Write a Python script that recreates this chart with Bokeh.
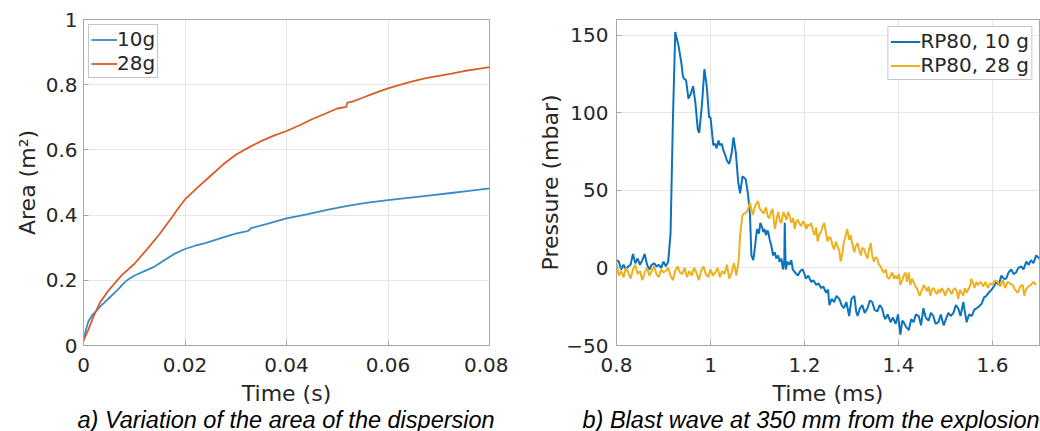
from bokeh.plotting import figure
from bokeh.layouts import row, column
from bokeh.models import FixedTicker, Legend, LegendItem, Range1d
from bokeh.core.properties import value
from bokeh.embed import file_html
from bokeh.resources import INLINE

# ---------------- data: panel a ----------------
t_10g = [0.0, 0.0005, 0.001, 0.0018, 0.0026, 0.0033, 0.004, 0.005, 0.006, 0.007, 0.008, 0.009, 0.010,
         0.012, 0.014, 0.016, 0.018, 0.020, 0.022, 0.024, 0.026, 0.028, 0.030, 0.032, 0.0325, 0.033,
         0.036, 0.040, 0.044, 0.048, 0.052, 0.056, 0.060, 0.064, 0.068, 0.072, 0.076, 0.080]
a_10g = [0.015, 0.05, 0.075, 0.095, 0.107, 0.12, 0.13, 0.145, 0.16, 0.175, 0.192, 0.205, 0.214,
         0.228, 0.242, 0.262, 0.282, 0.296, 0.306, 0.314, 0.324, 0.334, 0.343, 0.35, 0.352, 0.36,
         0.372, 0.39, 0.402, 0.416, 0.428, 0.438, 0.446, 0.453, 0.46, 0.467, 0.474, 0.482]
t_28g = [0.0, 0.001, 0.002, 0.0033, 0.005, 0.0075, 0.010, 0.0125, 0.015, 0.0175, 0.019, 0.020, 0.0225,
         0.025, 0.0275, 0.030, 0.0325, 0.035, 0.0375, 0.040, 0.0425, 0.045, 0.0475, 0.050, 0.0518,
         0.0519, 0.052, 0.053, 0.055, 0.0575, 0.060, 0.0625, 0.065, 0.0675, 0.070, 0.0725, 0.075,
         0.0775, 0.080]
a_28g = [0.015, 0.05, 0.09, 0.133, 0.17, 0.215, 0.25, 0.295, 0.342, 0.395, 0.428, 0.448, 0.485,
         0.52, 0.555, 0.585, 0.607, 0.627, 0.644, 0.658, 0.675, 0.694, 0.71, 0.727, 0.732,
         0.74, 0.745, 0.748, 0.76, 0.775, 0.789, 0.8, 0.811, 0.82, 0.827, 0.834, 0.842,
         0.848, 0.854]

# ---------------- data: panel b ----------------
t_rp10 = [0.800, 0.805, 0.810, 0.815, 0.820, 0.825, 0.830, 0.835, 0.840, 0.845, 0.850, 0.855, 0.860,
          0.865, 0.870, 0.875, 0.880, 0.885, 0.890, 0.895, 0.900, 0.905, 0.910, 0.915, 0.920, 0.925,
          0.932, 0.938, 0.941, 0.943, 0.948, 0.953, 0.958, 0.963, 0.968, 0.973, 0.976, 0.982, 0.987,
          0.992, 0.997, 1.000, 1.006, 1.010, 1.013, 1.017, 1.020, 1.024, 1.027, 1.031, 1.035, 1.040,
          1.045, 1.049, 1.054, 1.059, 1.063, 1.068, 1.072, 1.075, 1.080, 1.084, 1.087, 1.091, 1.094,
          1.099, 1.103, 1.106, 1.110, 1.112, 1.115, 1.118, 1.121, 1.123, 1.126, 1.128, 1.131, 1.133,
          1.137, 1.140, 1.144, 1.147, 1.151, 1.154, 1.157, 1.158, 1.160, 1.164, 1.168, 1.172, 1.175,
          1.180, 1.186, 1.191, 1.196, 1.200, 1.203, 1.208, 1.214, 1.219, 1.225, 1.230, 1.235, 1.240,
          1.246, 1.250, 1.253, 1.258, 1.263, 1.268, 1.274, 1.279, 1.284, 1.289, 1.295, 1.300, 1.306,
          1.310, 1.313, 1.318, 1.323, 1.328, 1.334, 1.339, 1.344, 1.349, 1.355, 1.360, 1.365, 1.369,
          1.372, 1.377, 1.383, 1.388, 1.394, 1.399, 1.404, 1.408, 1.411, 1.416, 1.422, 1.427, 1.432,
          1.437, 1.443, 1.448, 1.453, 1.458, 1.464, 1.469, 1.474, 1.479, 1.485, 1.490, 1.496, 1.501,
          1.506, 1.511, 1.517, 1.522, 1.527, 1.532, 1.538, 1.541, 1.545, 1.550, 1.556, 1.561, 1.566,
          1.571, 1.577, 1.582, 1.587, 1.592, 1.598, 1.603, 1.608, 1.613, 1.619, 1.624, 1.629, 1.634,
          1.640, 1.645, 1.650, 1.655, 1.661, 1.666, 1.672, 1.677, 1.682, 1.687, 1.693, 1.700]
p_rp10 = [5, 4, -1, 2, -1, 1, 2, 9, 3, 6, 2, 5, 9,
          2, -1, 2, 3, 1, 2, 0, 4, 1, 4, 22, 95, 152,
          143, 132, 124, 122, 121, 109, 112, 117, 106, 89, 87, 106, 128,
          117, 97, 97, 79, 80, 77, 82, 79, 80, 76, 73, 69, 67,
          74, 84, 74, 55, 48, 59, 58, 57, 47, 34, 8, 5, 12,
          25, 22, 29, 26, 23, 25, 21, 24, 23, 18, 16, 12, 8,
          10, 6, 8, 4, 6, -1, 5, 29, -1, 4, 2, 5, -1,
          -3, -5, -2, -1, -4, -7, -5, -9, -8, -11, -10, -13, -12,
          -16, -14, -24, -20, -22, -18, -20, -24, -26, -22, -31, -20, -18,
          -28, -31, -26, -24, -29, -26, -21, -22, -27, -28, -24, -26, -31,
          -33, -30, -35, -32, -36, -30, -43, -34, -35, -38, -40, -33, -35,
          -30, -31, -37, -26, -32, -34, -29, -31, -36, -35, -30, -37, -33,
          -29, -31, -29, -24, -26, -31, -22, -28, -35, -30, -31, -27, -26,
          -25, -23, -19, -18, -16, -14, -12, -9, -11, -5, -7, -7, -3,
          -1, -4, -3, 0, 1, -1, 4, 2, 5, 3, 8, 6]

t_rp28 = [0.800, 0.805, 0.810, 0.815, 0.820, 0.825, 0.830, 0.835, 0.840, 0.845, 0.850, 0.855, 0.860,
          0.865, 0.870, 0.875, 0.880, 0.885, 0.890, 0.895, 0.900, 0.905, 0.910, 0.915, 0.920, 0.925,
          0.930, 0.935, 0.940, 0.945, 0.950, 0.955, 0.960, 0.965, 0.970, 0.975, 0.980, 0.985, 0.990,
          0.995, 1.000, 1.005, 1.010, 1.015, 1.020, 1.025, 1.030, 1.035, 1.040, 1.045, 1.050, 1.055,
          1.060, 1.063, 1.068, 1.072, 1.077, 1.081, 1.084, 1.087, 1.090, 1.095, 1.101, 1.105, 1.108,
          1.113, 1.118, 1.122, 1.125, 1.129, 1.132, 1.135, 1.137, 1.141, 1.144, 1.148, 1.151, 1.155,
          1.158, 1.162, 1.165, 1.169, 1.172, 1.176, 1.179, 1.183, 1.186, 1.190, 1.193, 1.197, 1.200,
          1.204, 1.207, 1.211, 1.214, 1.218, 1.221, 1.225, 1.228, 1.232, 1.235, 1.239, 1.242, 1.246,
          1.249, 1.253, 1.256, 1.260, 1.263, 1.267, 1.270, 1.274, 1.277, 1.281, 1.284, 1.288, 1.291,
          1.295, 1.298, 1.302, 1.306, 1.309, 1.313, 1.316, 1.320, 1.323, 1.327, 1.330, 1.334, 1.337,
          1.341, 1.344, 1.348, 1.351, 1.355, 1.358, 1.362, 1.366, 1.369, 1.373, 1.376, 1.380, 1.383,
          1.387, 1.390, 1.394, 1.397, 1.401, 1.404, 1.408, 1.411, 1.415, 1.418, 1.422, 1.425, 1.429,
          1.432, 1.436, 1.439, 1.445, 1.450, 1.454, 1.457, 1.461, 1.464, 1.468, 1.471, 1.475, 1.478,
          1.482, 1.485, 1.489, 1.492, 1.496, 1.499, 1.503, 1.506, 1.510, 1.513, 1.517, 1.520, 1.524,
          1.527, 1.531, 1.534, 1.538, 1.541, 1.545, 1.548, 1.552, 1.555, 1.559, 1.562, 1.566, 1.569,
          1.575, 1.580, 1.585, 1.590, 1.595, 1.600, 1.605, 1.611, 1.616, 1.622, 1.627, 1.632, 1.637,
          1.643, 1.648, 1.654, 1.659, 1.664, 1.668, 1.671, 1.676, 1.682, 1.687, 1.693, 1.700]
p_rp28 = [3, -5, -2, -6, 0, -3, -7, -1, 2, -4, -2, -8, -3,
          0, -5, -2, 1, -4, -6, -1, -3, -2, 0, -5, -8, -2,
          1, -3, -4, 0, -6, -2, -5, 0, -3, -8, -2, 1, -4,
          -6, -1, -5, -3, 0, -6, -2, -4, 2, -7, -3, 3, -5,
          5, 21, 34, 35, 36, 39, 42, 38, 34, 40, 43, 38, 37,
          35, 39, 33, 32, 36, 38, 30, 25, 32, 36, 30, 29, 36,
          34, 31, 36, 33, 29, 32, 25, 30, 31, 28, 27, 30, 29,
          25, 28, 27, 29, 24, 21, 26, 17, 22, 23, 27, 29, 22,
          17, 20, 19, 14, 12, 17, 14, 11, 4, 10, 17, 21, 25,
          18, 21, 15, 10, 14, 16, 12, 8, 13, 12, 9, 6, 11,
          16, 8, 4, 7, 6, 2, 1, -2, -3, -1, -6, -7, -5,
          -3, -7, -5, -7, -4, -11, -8, -5, -3, -9, -3, -11, -7,
          -9, -12, -13, -18, -14, -11, -13, -15, -12, -18, -14, -13, -15,
          -17, -14, -16, -13, -15, -18, -15, -13, -15, -17, -14, -13, -15,
          -20, -14, -16, -18, -13, -16, -14, -12, -7, -10, -13, -9, -11,
          -9, -12, -9, -13, -10, -11, -8, -9, -12, -8, -13, -9, -10,
          -11, -14, -16, -12, -11, -18, -14, -12, -11, -9, -11]

cap_a = "a) Variation of the area of the dispersion"
cap_b = "b) Blast wave at 350 mm from the explosion"

# ---------------- styling helpers ----------------
TICK_FONT = "DejaVu Sans"
TXT = "#262626"
FRAME = "#a6a6a6"
PLOT_H = 405
CAP_H = 26


def style(p, ystand, ylabstand):
    p.outline_line_color = FRAME
    p.outline_line_width = 1
    p.background_fill_color = "white"
    p.border_fill_color = "white"
    for ax in (p.xaxis[0], p.yaxis[0]):
        ax.major_label_text_font = TICK_FONT
        ax.major_label_text_font_size = "20px"
        ax.major_label_text_color = TXT
        ax.axis_label_text_font = TICK_FONT
        ax.axis_label_text_font_size = "22px"
        ax.axis_label_text_font_style = "normal"
        ax.axis_label_text_color = TXT
        ax.axis_line_color = FRAME
        ax.major_tick_line_color = FRAME
        ax.major_tick_in = 5
        ax.major_tick_out = 0
        ax.minor_tick_line_color = None
    p.xaxis.major_label_standoff = 12
    p.yaxis.major_label_standoff = ystand
    p.xaxis.axis_label_standoff = 6
    p.yaxis.axis_label_standoff = ylabstand
    p.grid.grid_line_color = "#e6e6e6"
    p.grid.grid_line_width = 1


def caption_fig(width, text, x_px):
    c = figure(width=width, height=CAP_H, output_backend="svg", toolbar_location=None,
               x_range=Range1d(0, width), y_range=Range1d(0, CAP_H),
               min_border=0, outline_line_color=None)
    c.axis.visible = False
    c.grid.visible = False
    c.text(x=[x_px], y=[CAP_H - 11], text=[text], text_font=value("Liberation Sans"),
           text_font_style="italic", text_font_size="23.5px", text_color="black",
           text_align="left", text_baseline="middle")
    return c


# ---------------- panel a ----------------
xt_a = [0, 0.02, 0.04, 0.06, 0.08]
yt_a = [0, 0.2, 0.4, 0.6, 0.8, 1]
pa = figure(width=508, height=PLOT_H, output_backend="svg", toolbar_location=None,
            x_range=Range1d(0, 0.08), y_range=Range1d(0, 1),
            min_border_left=83, min_border_right=19, min_border_top=19, min_border_bottom=60,
            frame_width=406, frame_height=326)
pa.xaxis.ticker = FixedTicker(ticks=xt_a)
pa.yaxis.ticker = FixedTicker(ticks=yt_a)
pa.xaxis.major_label_overrides = {0: "0", 0.02: "0.02", 0.04: "0.04", 0.06: "0.06", 0.08: "0.08"}
pa.yaxis.major_label_overrides = {0: "0", 1: "1"}
pa.xaxis.axis_label = "Time (s)"
pa.yaxis.axis_label = "Area (m²)"
style(pa, 6, 3)
la = pa.line(t_10g, a_10g, line_color="#3a8ac6", line_width=1.8)
lb = pa.line(t_28g, a_28g, line_color="#d95c2b", line_width=1.8)
leg_a = Legend(items=[LegendItem(label="10g", renderers=[la]), LegendItem(label="28g", renderers=[lb])],
               location="top_left")
pa.add_layout(leg_a)

# ---------------- panel b ----------------
xt_b = [0.8, 1.0, 1.2, 1.4, 1.6]
yt_b = [-50, 0, 50, 100, 150]
pb = figure(width=532, height=PLOT_H, output_backend="svg", toolbar_location=None,
            x_range=Range1d(0.8, 1.7), y_range=Range1d(-50, 160),
            min_border_left=108, min_border_right=1, min_border_top=17, min_border_bottom=62,
            frame_width=423, frame_height=326)
pb.xaxis.ticker = FixedTicker(ticks=xt_b)
pb.yaxis.ticker = FixedTicker(ticks=yt_b)
pb.xaxis.major_label_overrides = {1.0: "1"}
pb.xaxis.axis_label = "Time (ms)"
pb.yaxis.axis_label = "Pressure (mbar)"
style(pb, 8, 0)
lc = pb.line(t_rp10, p_rp10, line_color="#0b72bd", line_width=2)
ld = pb.line(t_rp28, p_rp28, line_color="#edb120", line_width=2)
leg_b = Legend(items=[LegendItem(label="RP80, 10 g", renderers=[lc]),
                      LegendItem(label="RP80, 28 g", renderers=[ld])],
               location="top_right")
pb.add_layout(leg_b)

for leg in (leg_a, leg_b):
    leg.label_text_font = TICK_FONT
    leg.label_text_font_size = "20px"
    leg.label_text_color = TXT
    leg.border_line_color = "#8c8c8c"
    leg.border_line_width = 1.5
    leg.background_fill_alpha = 1
    leg.padding = 2
    leg.spacing = 0
    leg.label_height = 21
    leg.glyph_height = 21
    leg.label_standoff = 0
leg_a.glyph_width = 26
leg_a.margin = 5
leg_b.glyph_width = 30
leg_b.margin = 7

ca = caption_fig(508, cap_a, 77)
cb = caption_fig(532, cap_b, 74)

layout = column(row(pa, pb, spacing=0), row(ca, cb, spacing=0), spacing=0)
open("out.html", "w").write(file_html(layout, INLINE))
